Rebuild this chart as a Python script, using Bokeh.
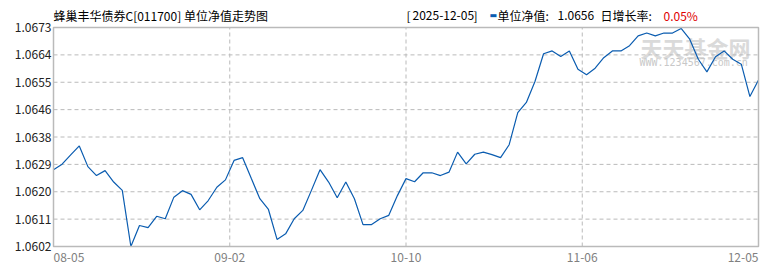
from bokeh.plotting import figure
from bokeh.models import Range1d, ColumnDataSource
from bokeh.core.properties import value
from bokeh.embed import file_html
from bokeh.resources import INLINE

title_text = "蜂巢丰华债券C[011700] 单位净值走势图"
last_date = "2025-12-05"
last_nav = "1.0656"
last_rate = "0.05%"

nav = [
    1.06269, 1.06287, 1.06317, 1.06346, 1.06279, 1.06250, 1.06266, 1.06229, 1.06202, 1.06020,
    1.06088, 1.06081, 1.06118, 1.06110, 1.06180, 1.06201, 1.06189, 1.06139, 1.06169, 1.06212,
    1.06236, 1.06299, 1.06308, 1.06241, 1.06175, 1.06140, 1.06043, 1.06061, 1.06110, 1.06137,
    1.06202, 1.06269, 1.06229, 1.06178, 1.06229, 1.06175, 1.06091, 1.06091, 1.06110, 1.06121,
    1.06185, 1.06240, 1.06230, 1.06259, 1.06259, 1.06250, 1.06261, 1.06326, 1.06288, 1.06319,
    1.06326, 1.06318, 1.06308, 1.06350, 1.06454, 1.06487, 1.06555, 1.06645, 1.06654, 1.06636,
    1.06654, 1.06595, 1.06577, 1.06598, 1.06632, 1.06654, 1.06654, 1.06671, 1.06703, 1.06712,
    1.06703, 1.06712, 1.06712, 1.06727, 1.06692, 1.06627, 1.06586, 1.06635, 1.06654, 1.06627,
    1.06611, 1.06506, 1.06560,
]
x_tick_pos = [0, 20.5, 41, 61.5, 82]
x_tick_labels = ["08-05", "09-02", "10-10", "11-06", "12-05"]
y_tick_labels = ["1.0602", "1.0611", "1.0620", "1.0629", "1.0638",
                 "1.0646", "1.0655", "1.0664", "1.0673"]
y_min, y_max = 1.0602, 1.0673

FONT = "Noto Sans CJK SC"
LINE = "#0a5cb0"
GRID = "#bababa"
W, H = 770, 270
PL, PR, PT, PB = 53, 758, 27, 246   # plot-area box in canvas pixels

n_last = len(nav) - 1
ppx = (PR - PL) / n_last
ppy = (PB - PT) / (y_max - y_min)

p = figure(width=W, height=H, output_backend="svg", toolbar_location=None,
           x_range=Range1d(-PL / ppx, n_last + (W - PR) / ppx),
           y_range=Range1d(y_min - (H - PB) / ppy, y_max + PT / ppy),
           min_border=0, min_border_left=0, min_border_right=0,
           min_border_top=0, min_border_bottom=0)
p.axis.visible = False
p.grid.visible = False
p.outline_line_color = None
p.background_fill_color = "white"
p.border_fill_color = "white"

yt = [y_min + j * (y_max - y_min) / 8 for j in range(9)]

# watermark
p.text(x=[n_last], y=[y_max], text=["天天基金网"], x_offset=-118, y_offset=19,
       text_font=value(FONT), text_font_size="22px", text_font_style="bold",
       text_color="#dadada", text_baseline="middle", text_align="left")
p.text(x=[n_last], y=[y_max], text=["WWW.1234567.com.cn"], x_offset=-119, y_offset=35,
       text_font=value("DejaVu Sans Mono"), text_font_size="10px",
       text_color="#c8c8c8", text_baseline="middle", text_align="left")

# grid lines
p.segment(x0=0, x1=n_last, y0=yt[1:-1], y1=yt[1:-1], line_color=GRID, line_width=1, line_dash="4 3")
p.segment(x0=x_tick_pos[1:-1], x1=x_tick_pos[1:-1], y0=y_min, y1=y_max,
          line_color=GRID, line_width=1, line_dash="4 3")

# series
p.line(x=list(range(len(nav))), y=nav, line_color=LINE, line_width=1.2)

# plot border
p.quad(left=[0], right=[n_last], bottom=[y_min], top=[y_max], fill_color=None,
       line_color=GRID, line_width=1.5)

# y tick labels
p.text(x=0, y=yt, text=y_tick_labels, x_offset=-2, text_align="right", text_baseline="middle",
       text_font=value(FONT), text_font_size="12px", text_color="#222222")

# x tick labels
aligns = ["left"] + ["center"] * (len(x_tick_pos) - 2) + ["right"]
xsrc = ColumnDataSource(dict(x=x_tick_pos, y=[y_min] * len(x_tick_pos), t=x_tick_labels, a=aligns))
p.text(x="x", y="y", text="t", text_align="a", source=xsrc, y_offset=11,
       text_baseline="middle", text_font=value(FONT), text_font_size="12px", text_color="#808080")

# header
hx = [0, 353, 359, 420, 444, 504, 547, 610]
ht = [title_text, "[", last_date, "]", "单位净值:", last_nav, "日增长率:", last_rate]
hc = ["#000000"] * 7 + ["#e00000"]
hsrc = ColumnDataSource(dict(x=[0] * len(ht), y=[y_max] * len(ht), t=ht, c=hc, o=hx))
p.text(x="x", y="y", text="t", text_color="c", x_offset="o", source=hsrc, y_offset=-12,
       text_baseline="middle", text_align="left", text_font=value(FONT), text_font_size="12px")
# legend marker for the series in the header
p.text(x=[0], y=[y_max], text=["▬"], x_offset=489 - 53, y_offset=-12, text_baseline="middle",
       text_align="left", text_font=value("DejaVu Sans"), text_font_size="8px", text_color=LINE)

open("out.html", "w").write(file_html(p, INLINE))
